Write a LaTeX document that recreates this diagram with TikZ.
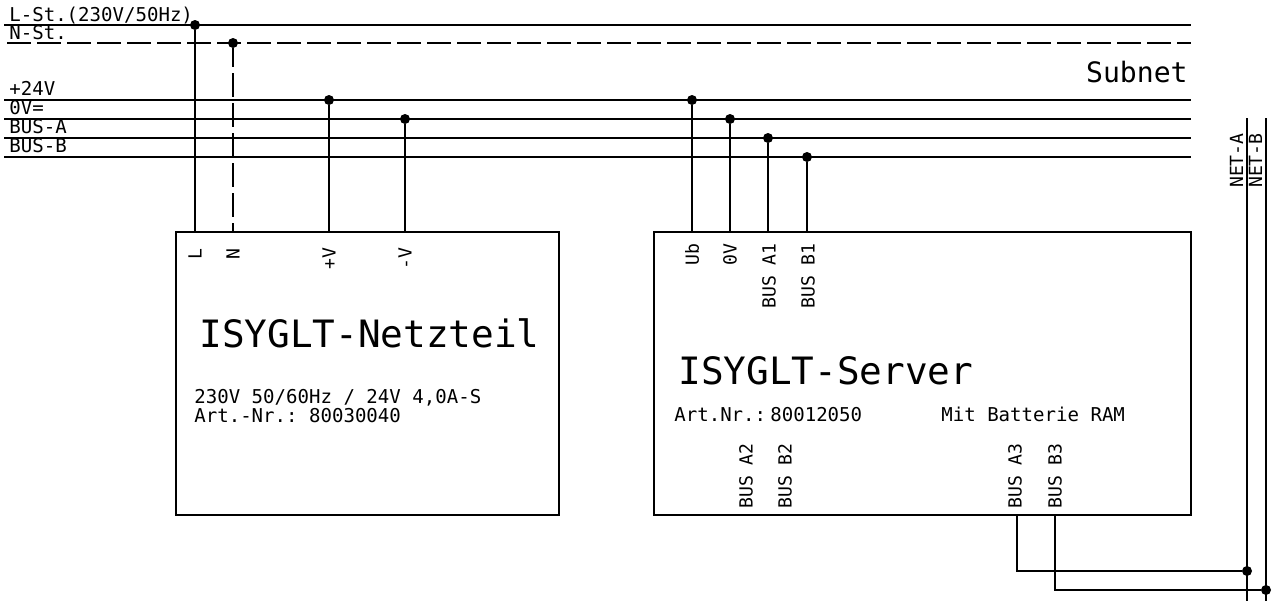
\documentclass[tikz,border=0pt]{standalone}
\usepackage{fontspec}
\setmonofont{DejaVu Sans Mono}
\tikzset{
    wire/.style={line width=0.8pt},
    nwire/.style={wire, dash pattern=on 0.47cm off 0.13cm},
    dot/.style={circle, fill=black, inner sep=0pt, minimum size=0.2cm},
    unit/.style={draw, line width=0.8pt, minimum width=#1, minimum height=5.66cm, inner sep=0pt},
    bus/.style={anchor=base west, inner sep=0pt, font=\ttfamily\fontsize{10.85}{12}\selectfont},
    pin/.style={anchor=east, rotate=90, inner sep=0pt, font=\ttfamily\fontsize{10.3}{12}\selectfont},
    netname/.style={anchor=base east, rotate=90, inner sep=0pt, font=\ttfamily\fontsize{10.3}{12}\selectfont},
    title/.style={anchor=base west, inner sep=0pt, font=\ttfamily\fontsize{21.45}{24}\selectfont},
}

\begin{document}
\begin{tikzpicture}[x=0.02cm, y=-0.02cm]
            \useasboundingbox (0, 0) rectangle (1272, 602);

            % supply and bus lines
            \coordinate (Lw) at (4, 25);
            \coordinate (Le) at (1191, 25);
            \coordinate (Nw) at (4, 43);
            \coordinate (Ne) at (1191, 43);
            \coordinate (Pw) at (4, 100);
            \coordinate (Pe) at (1191, 100);
            \coordinate (Mw) at (4, 119);
            \coordinate (Me) at (1191, 119);
            \coordinate (Aw) at (4, 138);
            \coordinate (Ae) at (1191, 138);
            \coordinate (Bw) at (4, 157);
            \coordinate (Be) at (1191, 157);
            \draw[wire] (Lw) -- (Le);
            \draw[nwire, dash phase=0.53cm] (Nw) -- (Ne);
            \draw[wire] (Pw) -- (Pe);
            \draw[wire] (Mw) -- (Me);
            \draw[wire] (Aw) -- (Ae);
            \draw[wire] (Bw) -- (Be);

            \node[bus] (tL) at (9, 21) {L-St.(230V/50Hz)};
            \node[bus] (tN) at (9, 39) {N-St.};
            \node[bus] (tP) at (9, 95) {+24V};
            \node[bus] (tM) at (9, 114) {0V=};
            \node[bus] (tA) at (9, 133) {BUS-A};
            \node[bus] (tB) at (9, 152) {BUS-B};
            \node[anchor=base east, inner sep=0pt, font=\ttfamily\fontsize{16}{18}\selectfont] (subnet) at (1188, 82) {Subnet};

            % the two units
            \node[unit=7.66cm] (psu) at (367.5, 373.5) {};
            \node[unit=10.74cm] (srv) at (922.5, 373.5) {};

            \node[dot] (d1) at (195, 25) {};
            \node[dot] (d2) at (233, 43) {};
            \node[dot] (d3) at (329, 100) {};
            \node[dot] (d4) at (405, 119) {};
            \node[dot] (d5) at (692, 100) {};
            \node[dot] (d6) at (730, 119) {};
            \node[dot] (d7) at (768, 138) {};
            \node[dot] (d8) at (807, 157) {};

            \draw[wire] (d1) -- (d1 |- psu.north);
            \draw[nwire, dash phase=0.1cm] (d2) -- (d2 |- psu.north);
            \draw[wire] (d3) -- (d3 |- psu.north);
            \draw[wire] (d4) -- (d4 |- psu.north);
            \draw[wire] (d5) -- (d5 |- srv.north);
            \draw[wire] (d6) -- (d6 |- srv.north);
            \draw[wire] (d7) -- (d7 |- srv.north);
            \draw[wire] (d8) -- (d8 |- srv.north);

            % pin names
            \node[pin] (pL) at (195, 248) {L};
            \node[pin] (pN) at (233, 248) {N};
            \node[pin] (pP) at (329, 247) {+V};
            \node[pin] (pM) at (405, 247) {-V};
            \node[pin] (pUb) at (692, 243) {Ub};
            \node[pin] (p0V) at (730, 243) {0V};
            \node[pin] (pA1) at (769, 243) {BUS A1};
            \node[pin] (pB1) at (808, 243) {BUS B1};
            \node[pin] (pA2) at (746, 443) {BUS A2};
            \node[pin] (pB2) at (785, 443) {BUS B2};
            \node[pin] (pA3) at (1015, 443) {BUS A3};
            \node[pin] (pB3) at (1055, 443) {BUS B3};

            % unit texts
            \node[title] (psuname) at (199, 347) {ISYGLT-Netzteil};
            \node[bus] (psu1) at (194, 403) {230V 50/60Hz / 24V 4,0A-S};
            \node[bus] (psu2) at (194, 422) {Art.-Nr.: 80030040};
            \node[title] (srvname) at (678, 384) {ISYGLT-Server};
            \node[bus] (srv1) at (674, 421) {Art.Nr.:};
            \node[bus] (srv2) at (770, 421) {80012050};
            \node[bus] (srv3) at (941, 421) {Mit Batterie RAM};

            % net lines
            \coordinate (NAt) at (1247, 118);
            \coordinate (NAb) at (1247, 601);
            \coordinate (NBt) at (1266, 118);
            \coordinate (NBb) at (1266, 601);
            \draw[wire] (NAt) -- (NAb);
            \draw[wire] (NBt) -- (NBb);
            \node[netname] (tNA) at (1243, 133) {NET-A};
            \node[netname] (tNB) at (1262, 133) {NET-B};

            \node[dot] (d9) at (1247, 571) {};
            \node[dot] (d10) at (1266, 590) {};
            \coordinate (c9) at (1017, 515);
            \coordinate (c10) at (1055, 515);
            \draw[wire] (c9) -- (c9 |- d9) -- (d9);
            \draw[wire] (c10) -- (c10 |- d10) -- (d10);
        \end{tikzpicture}
\end{document}
